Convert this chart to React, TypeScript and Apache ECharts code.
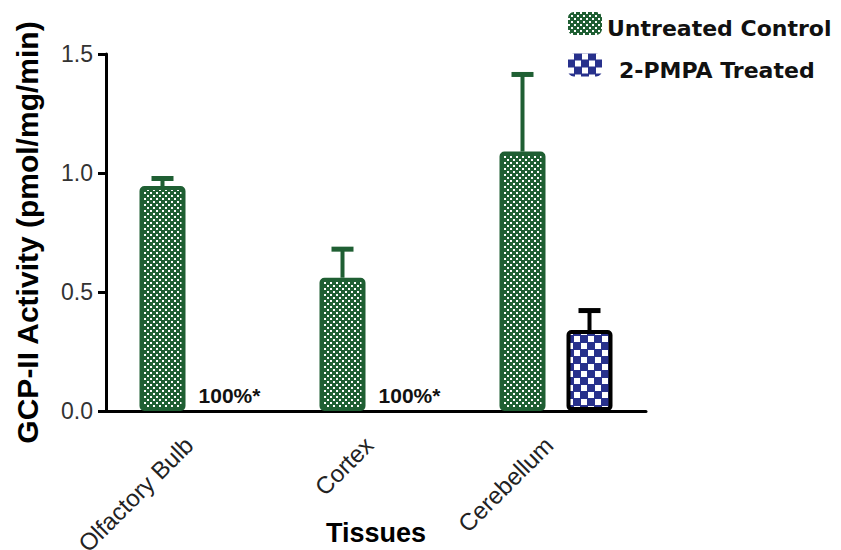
import React, { useEffect, useRef } from "react";
import * as echarts from "echarts";

const categories = ["Olfactory Bulb", "Cortex", "Cerebellum"];
const untreatedValues = [0.945, 0.56, 1.09];
const untreatedErrors = [0.032, 0.12, 0.324];
const treatedValues = [0, 0, 0.34];
const treatedErrors: (number | null)[] = [null, null, 0.082];
const treatedLabels: (string | null)[] = ["100%*", "100%*", null];
const seriesNames = ["Untreated Control", "2-PMPA Treated"];

const GREEN = "#1f5f33";
const BLUE = "#28318c";
const BAR_W = 46;
const BAR_GAP_PX = 21;
const FONT = "'Liberation Sans', Arial, sans-serif";

function makePattern(size: number, bg: string, cells: number[][]) {
  const c = document.createElement("canvas");
  c.width = size;
  c.height = size;
  const ctx = c.getContext("2d")!;
  ctx.fillStyle = bg;
  ctx.fillRect(0, 0, size, size);
  ctx.fillStyle = "#ffffff";
  cells.forEach(([x, y, w, h]) => ctx.fillRect(x, y, w, h));
  return c;
}

function errorSeries(values: number[], errors: (number | null)[], color: string, side: number) {
  const data: number[][] = [];
  values.forEach((v, i) => {
    const e = errors[i];
    if (e != null) data.push([i, v, v + e]);
  });
  return {
    type: "custom",
    z: 2,
    silent: true,
    encode: { x: 0, y: [1, 2] },
    data,
    renderItem: (_p: any, api: any) => {
      const idx = api.value(0);
      const base = api.coord([idx, api.value(1)]);
      const top = api.coord([idx, api.value(2)]);
      const x = base[0] + side * (BAR_W / 2 + BAR_GAP_PX / 2);
      return {
        type: "group",
        children: [
          { type: "line", shape: { x1: x, y1: base[1], x2: x, y2: top[1] }, style: { stroke: color, lineWidth: 4 } },
          { type: "line", shape: { x1: x - 11, y1: top[1], x2: x + 11, y2: top[1] }, style: { stroke: color, lineWidth: 5 } },
        ],
      };
    },
  };
}

export default function App() {
  const ref = useRef<HTMLDivElement>(null);
  useEffect(() => {
    if (!ref.current) return;
    document.body.style.margin = "0";
    const chart = echarts.init(ref.current, null, { renderer: "svg" });
    const greenPat = makePattern(6, GREEN, [
      [0, 0, 2, 2],
      [3, 3, 2, 2],
    ]);
    const bluePat = makePattern(14, BLUE, [
      [0, 0, 6, 6],
      [7, 7, 6, 6],
    ]);
    const greenFill = { image: greenPat, repeat: "repeat" };
    const blueFill = { image: bluePat, repeat: "repeat" };
    const legendFont = {
      fontFamily: "'DejaVu Sans', sans-serif",
      fontWeight: "bold",
      fontSize: 22,
      color: "#111",
    };

    chart.setOption({
      animation: false,
      legend: {
        orient: "vertical",
        left: 568,
        top: 12,
        padding: 0,
        itemWidth: 34,
        itemHeight: 23,
        itemGap: 14,
        icon: "roundRect",
        itemStyle: { borderWidth: 0 },
        formatter: (name: string) => (name === seriesNames[0] ? `{a|${name}}` : `{b|${name}}`),
        textStyle: {
          ...legendFont,
          rich: {
            a: { ...legendFont, padding: [10, 0, 0, 0] },
            b: { ...legendFont, padding: [10, 0, 0, 12] },
          },
        },
        data: seriesNames,
      },
      grid: { left: 106, top: 54, width: 540, height: 357, outerBoundsMode: "none", containLabel: false },
      xAxis: {
        type: "category",
        data: categories,
        name: "Tissues",
        nameLocation: "middle",
        nameGap: 108,
        nameMoveOverlap: false,
        nameTextStyle: { fontFamily: FONT, fontWeight: "bold", fontSize: 27, color: "#000" },
        axisLine: { lineStyle: { color: "#000", width: 3 } },
        axisTick: { alignWithLabel: true, length: 8, lineStyle: { color: "#000", width: 3 } },
        axisLabel: {
          rotate: 45,
          margin: 23,
          padding: [0, 10, 0, 0],
          fontFamily: FONT,
          fontSize: 24,
          color: "#222",
          interval: 0,
        },
      },
      yAxis: {
        type: "value",
        min: 0,
        max: 1.5,
        interval: 0.5,
        name: "GCP-II Activity (pmol/mg/min)",
        nameLocation: "middle",
        nameGap: 64,
        nameTextStyle: { fontFamily: FONT, fontWeight: "bold", fontSize: 30, color: "#000" },
        axisLine: { show: true, lineStyle: { color: "#000", width: 3 } },
        axisTick: { show: true, length: 8, lineStyle: { color: "#000", width: 3 } },
        axisLabel: { margin: 13, fontFamily: FONT, fontSize: 23, color: "#333", formatter: (v: number) => v.toFixed(1) },
        splitLine: { show: false },
      },
      series: [
        {
          name: seriesNames[0],
          type: "bar",
          z: 3,
          barWidth: BAR_W,
          barGap: (BAR_GAP_PX / BAR_W) * 100 + "%",
          data: untreatedValues,
          itemStyle: { color: greenFill, borderColor: GREEN, borderWidth: 4, borderRadius: 3 },
        },
        {
          name: seriesNames[1],
          type: "bar",
          z: 3,
          barWidth: BAR_W,
          data: treatedValues.map((v, i) => ({
            value: v,
            itemStyle: v === 0 ? { borderWidth: 0 } : undefined,
            label: treatedLabels[i]
              ? {
                  show: true,
                  position: "top",
                  distance: 5,
                  formatter: treatedLabels[i],
                  fontFamily: FONT,
                  fontWeight: "bold",
                  fontSize: 21,
                  color: "#111",
                }
              : { show: false },
          })),
          itemStyle: { color: blueFill, borderColor: "#000", borderWidth: 4, borderRadius: 3 },
        },
        errorSeries(untreatedValues, untreatedErrors, GREEN, -1),
        errorSeries(treatedValues, treatedErrors, "#000", 1),
      ],
    });
    return () => chart.dispose();
  }, []);
  return <div ref={ref} style={{ width: 841, height: 550 }} />;
}
